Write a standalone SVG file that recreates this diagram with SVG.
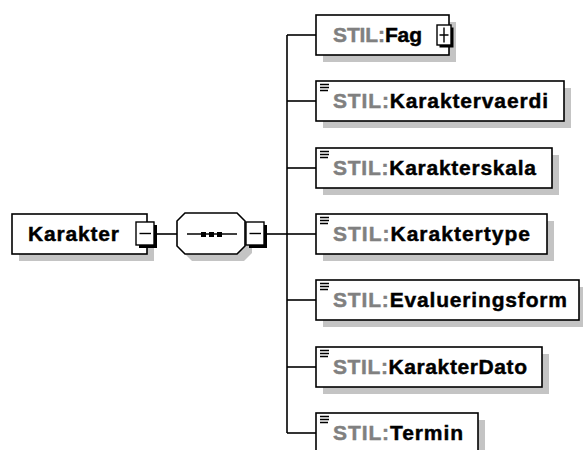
<svg xmlns="http://www.w3.org/2000/svg" width="583" height="450" viewBox="0 0 583 450">
<style>
  .shadow { fill: #c4c4c4; }
  .box { fill: #ffffff; stroke: #000000; stroke-width: 1.6; }
  .conn { fill: none; stroke: #000000; stroke-width: 1.6; }
  .lbl { font-family: "Liberation Sans", Arial, sans-serif; font-weight: bold; font-size: 21px; fill: #000000; stroke: #000000; stroke-width: 0.45; }
  .ns { fill: #808080; stroke: #808080; }
  .btn { fill: #ffffff; stroke: #000000; stroke-width: 1.4; }
  .btnsh { fill: #000000; }
  .sym { stroke: #000000; stroke-width: 1.4; fill: none; }
  .icon { stroke: #000000; stroke-width: 1.3; fill: none; }
</style>
<rect width="583" height="450" fill="#ffffff"/>

<g id="connectors">
  <path class="conn" d="M157 234 H177"/>
  <path class="conn" d="M267 234 H287"/>
  <path class="conn" d="M287 35 V433"/>
  <path class="conn" d="M287 35 H316"/>
  <path class="conn" d="M287 101 H316"/>
  <path class="conn" d="M287 168 H316"/>
  <path class="conn" d="M287 234 H316"/>
  <path class="conn" d="M287 300 H316"/>
  <path class="conn" d="M287 367 H316"/>
  <path class="conn" d="M287 433 H316"/>
</g>

<g id="node-karakter">
  <rect class="shadow" x="19" y="221" width="135" height="40"/>
  <rect class="box" x="12" y="214" width="135" height="40"/>
  <text class="lbl" x="28" y="241" textLength="91" lengthAdjust="spacing">Karakter</text>
  <rect class="btnsh" x="139" y="225" width="18" height="23"/>
  <rect class="btn" x="136" y="222" width="18" height="23"/>
  <path class="sym" d="M139.5 233.5 H151"/>
</g>

<g id="node-sequence">
  <polygon class="shadow" points="192,220 244,220 252,228 252,253 244,261 192,261 184,253 184,228"/>
  <polygon class="box" points="185,213 237,213 245,221 245,246 237,254 185,254 177,246 177,221"/>
  <path class="conn" d="M187 234 H237"/>
  <rect x="201" y="232" width="5" height="5" fill="#000"/>
  <rect x="209" y="232" width="5" height="5" fill="#000"/>
  <rect x="217" y="232" width="5" height="5" fill="#000"/>
  <rect class="btnsh" x="249" y="225" width="18" height="23"/>
  <rect class="btn" x="246" y="222" width="18" height="23"/>
  <path class="sym" d="M249.5 233.5 H261"/>
</g>

<g id="node-fag">
  <rect class="shadow" x="323" y="22" width="133" height="40"/>
  <rect class="box" x="316" y="15" width="133" height="40"/>
  <text class="lbl" x="333" y="42" textLength="89" lengthAdjust="spacing"><tspan class="ns">STIL:</tspan>Fag</text>
  <rect class="btnsh" x="439.5" y="27.5" width="14" height="20"/>
  <rect class="btn" x="437" y="25" width="14" height="20"/>
  <path class="sym" d="M439.5 35 H448.5 M444 27.5 V42.5"/>
</g>

<g id="node-karaktervaerdi">
  <rect class="shadow" x="323" y="88" width="248" height="40"/>
  <rect class="box" x="316" y="81" width="248" height="40"/>
  <path class="icon" d="M320 84.5 H329 M320 87.5 H329 M320 90.5 H328"/>
  <text class="lbl" x="333" y="108" textLength="215" lengthAdjust="spacing"><tspan class="ns">STIL:</tspan>Karaktervaerdi</text>
</g>

<g id="node-karakterskala">
  <rect class="shadow" x="323" y="155" width="236" height="40"/>
  <rect class="box" x="316" y="148" width="236" height="40"/>
  <path class="icon" d="M320 151.5 H329 M320 154.5 H329 M320 157.5 H328"/>
  <text class="lbl" x="333" y="175" textLength="203" lengthAdjust="spacing"><tspan class="ns">STIL:</tspan>Karakterskala</text>
</g>

<g id="node-karaktertype">
  <rect class="shadow" x="323" y="221" width="231" height="40"/>
  <rect class="box" x="316" y="214" width="231" height="40"/>
  <path class="icon" d="M320 217.5 H329 M320 220.5 H329 M320 223.5 H328"/>
  <text class="lbl" x="333" y="241" textLength="197" lengthAdjust="spacing"><tspan class="ns">STIL:</tspan>Karaktertype</text>
</g>

<g id="node-evalueringsform">
  <rect class="shadow" x="323" y="287" width="263" height="40"/>
  <rect class="box" x="316" y="280" width="263" height="40"/>
  <path class="icon" d="M320 283.5 H329 M320 286.5 H329 M320 289.5 H328"/>
  <text class="lbl" x="333" y="307" textLength="234" lengthAdjust="spacing"><tspan class="ns">STIL:</tspan>Evalueringsform</text>
</g>

<g id="node-karakterdato">
  <rect class="shadow" x="323" y="354" width="226" height="40"/>
  <rect class="box" x="316" y="347" width="226" height="40"/>
  <path class="icon" d="M320 350.5 H329 M320 353.5 H329 M320 356.5 H328"/>
  <text class="lbl" x="333" y="374" textLength="194" lengthAdjust="spacing"><tspan class="ns">STIL:</tspan>KarakterDato</text>
</g>

<g id="node-termin">
  <rect class="shadow" x="323" y="420" width="162" height="40"/>
  <rect class="box" x="316" y="413" width="162" height="40"/>
  <path class="icon" d="M320 416.5 H329 M320 419.5 H329 M320 422.5 H328"/>
  <text class="lbl" x="333" y="440" textLength="130" lengthAdjust="spacing"><tspan class="ns">STIL:</tspan>Termin</text>
</g>
</svg>
